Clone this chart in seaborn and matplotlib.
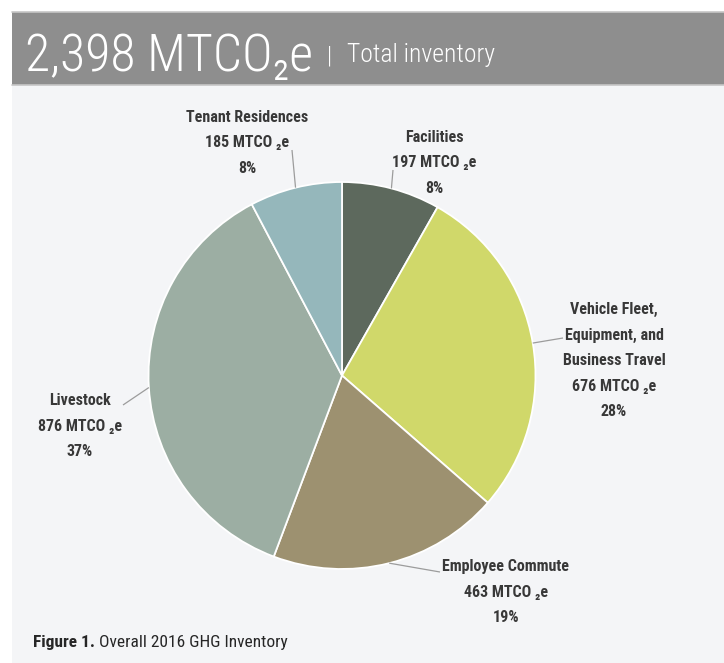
import matplotlib
matplotlib.use("Agg")
import numpy as np
import matplotlib.pyplot as plt
from matplotlib import font_manager as fm
from matplotlib.patches import Rectangle
import seaborn as sns

# --- data -------------------------------------------------------------
categories = [
    "Facilities",
    "Vehicle Fleet,\nEquipment, and\nBusiness Travel",
    "Employee Commute",
    "Livestock",
    "Tenant Residences",
]
emissions = [197, 676, 463, 876, 185]          # MTCO2e
total_inventory = 2398                          # MTCO2e (reported total)
slice_colors = ["#5d695d", "#d0d86a", "#9d9170", "#9caea3", "#95b7bb"]
header_subtitle = "Total inventory"
caption_lead = "Figure 1."
caption_text = "Overall 2016 GHG Inventory"


def pick_narrow_family():
    """Return (family, stretch) of the narrowest sans face available."""
    fonts = fm.fontManager.ttflist
    names = {f.name for f in fonts}
    for want in ["Roboto Condensed", "Liberation Sans Narrow", "Noto Sans Condensed",
                 "Open Sans Condensed", "DejaVu Sans Condensed"]:
        if want in names:
            return want, "normal"
    narrow = ("condensed", "semi-condensed", "extra-condensed", "ultra-condensed")
    for fam in ["Noto Sans", "DejaVu Sans", "Open Sans", "Roboto"]:
        if any(f.name == fam and str(f.stretch) in narrow for f in fonts):
            return fam, "condensed"
    return "DejaVu Sans", "normal"


# --- style ------------------------------------------------------------
sns.set_theme(style="white")
FAMILY, STRETCH = pick_narrow_family()
plt.rcParams["font.family"] = [FAMILY, "DejaVu Sans"]
plt.rcParams["font.stretch"] = STRETCH
palette = sns.color_palette(slice_colors)

W, H = 724, 663
PANEL = "#f4f5f7"
HEADER = "#8e8e8e"
INK = "#383838"

fig = plt.figure(figsize=(W / 100, H / 100), dpi=100, facecolor="white")
ax = fig.add_axes([0, 0, 1, 1])
renderer = fig.canvas.get_renderer()


def Y(y):
    """Pixel row measured from the top -> axis y."""
    return H - y


def width_px(t):
    return t.get_window_extent(renderer).width


# panel + header bar
ax.add_patch(Rectangle((12, Y(663)), W - 12, 651, facecolor=PANEL, edgecolor="none", zorder=0))
ax.add_patch(Rectangle((12, Y(85)), W - 12, 73, facecolor=HEADER, edgecolor="none", zorder=1))
ax.plot([12, W], [Y(12), Y(12)], color="#c6c6c6", lw=1.2, zorder=2)
ax.plot([12, W], [Y(85), Y(85)], color="#c6c6c6", lw=1.2, zorder=2)

# --- pie --------------------------------------------------------------
cx, cy, r = 342, Y(375.5), 193.5
wedges, _ = ax.pie(
    emissions,
    colors=palette,
    startangle=90,
    counterclock=False,
    center=(cx, cy),
    radius=r,
    wedgeprops=dict(edgecolor="white", linewidth=1.3),
)
ax.set_aspect("auto")
ax.set_xlim(0, W)
ax.set_ylim(0, H)
ax.axis("off")

# label type size: "Tenant Residences" set about 122 px wide, capped at 12.5 pt
probe = ax.text(0, 0, "Tenant Residences", fontsize=11, fontweight="bold")
LABEL_SIZE = min(12.5, 11 * 122 / width_px(probe))
probe.remove()

# label layout: text centre x, first baseline (px from top), leader outer end
layout = {
    "Facilities": (434, 142, (393, 170)),
    "Vehicle Fleet,\nEquipment, and\nBusiness Travel": (614, 314, (563, 338)),
    "Employee Commute": (506, 571, (440, 572)),
    "Livestock": (80, 405, (123, 405)),
    "Tenant Residences": (247, 122, (292, 150)),
}
PITCH = 25.5

for wedge, name, value in zip(wedges, categories, emissions):
    tx, base, (lx, ly) = layout[name]
    mid = np.deg2rad((wedge.theta1 + wedge.theta2) / 2)
    ex, ey = cx + r * np.cos(mid), cy + r * np.sin(mid)
    ax.plot([ex, lx], [ey, Y(ly)], color="#9c9c9c", lw=0.9, zorder=3,
            solid_capstyle="butt")
    pct = round(value / total_inventory * 100)
    lines = name.split("\n") + [f"{value} MTCO ₂e", f"{pct}%"]
    for i, line in enumerate(lines):
        ax.text(tx, Y(base + i * PITCH), line, ha="center", va="baseline",
                fontsize=LABEL_SIZE, fontweight="bold", color=INK, zorder=4)

# --- header -----------------------------------------------------------
head = ax.text(25, Y(71), f"{total_inventory:,} MTCO₂e", ha="left", va="baseline",
               fontsize=40, fontweight="light", color="white", zorder=5)
head.set_fontsize(min(50.0, 40 * 288 / width_px(head)))
bar = ax.annotate("|", xy=(1, Y(63)), xycoords=(head, "data"),
                  xytext=(10, 0), textcoords="offset points",
                  ha="left", va="baseline", fontsize=17, fontweight="light",
                  color="white", zorder=5)
sub = ax.annotate(header_subtitle, xy=(1, Y(62)), xycoords=(bar, "data"),
                  xytext=(11, 0), textcoords="offset points",
                  ha="left", va="baseline", fontsize=22, fontweight="light",
                  color="white", zorder=5)
sub.set_fontsize(min(28.0, 22 * 148 / width_px(sub)))

# --- caption ----------------------------------------------------------
lead = ax.text(33, Y(647), caption_lead, ha="left", va="baseline",
               fontsize=13, fontweight="bold", color="#262626", zorder=5)
rest = ax.annotate(caption_text, xy=(1, Y(647)), xycoords=(lead, "data"),
                   xytext=(3, 0), textcoords="offset points",
                   ha="left", va="baseline", fontsize=13, color="#262626", zorder=5)
cap_size = min(14.0, 13 * 250 / (width_px(lead) + width_px(rest)))
lead.set_fontsize(cap_size)
rest.set_fontsize(cap_size)

fig.savefig("out.png", dpi=100, facecolor="white")
